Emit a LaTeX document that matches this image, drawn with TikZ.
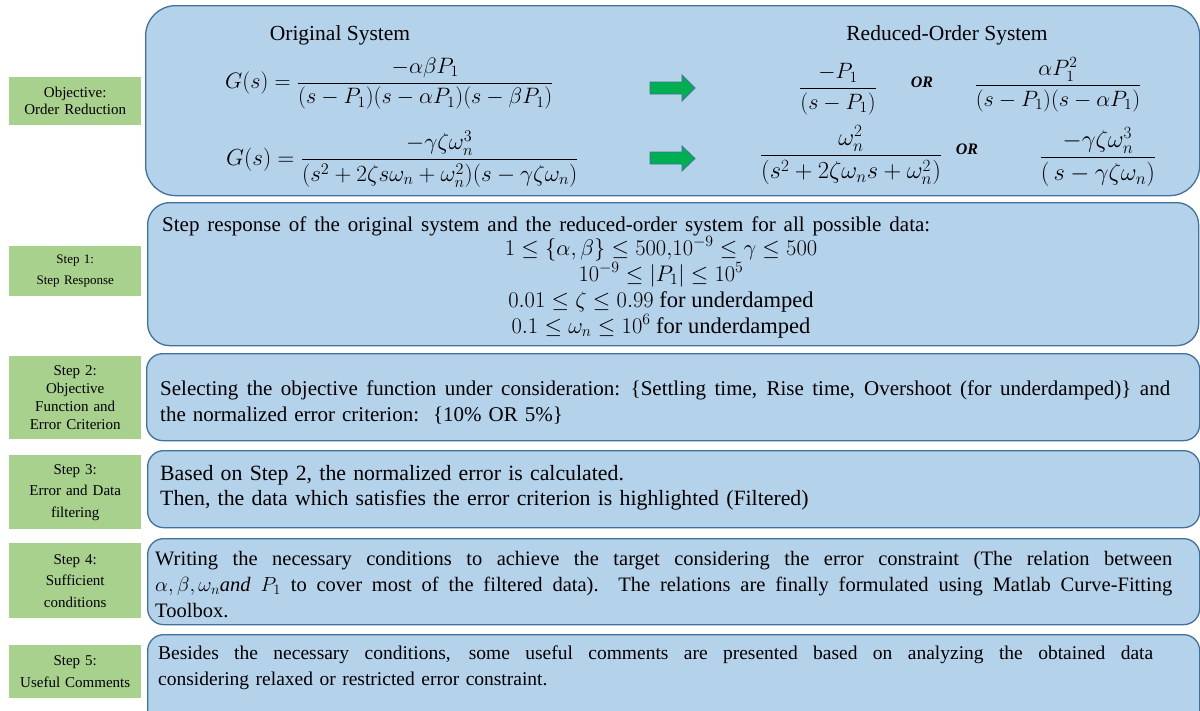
\RequirePackage{fix-cm}
\documentclass[tikz,border=0pt]{standalone}
\usepackage{fontspec}
\setmainfont{Liberation Serif}
\usepackage{amsmath}

\definecolor{panelfill}{RGB}{181,210,235}
\definecolor{panelline}{RGB}{65,113,156}
\definecolor{tagfill}{RGB}{169,209,142}
\definecolor{arrowfill}{RGB}{0,176,80}

\tikzset{
  panel/.style={draw=panelline, fill=panelfill, line width=1.3pt, anchor=north west, inner sep=0pt},
  tag/.style={fill=tagfill, anchor=north west, minimum width=132pt, text width=128pt,
              align=center, inner sep=0pt},
  body/.style={anchor=base west, inner sep=0pt, text width=1030pt},
  eqn/.style={anchor=base, inner sep=0pt, font=\fontsize{21.5}{26}\selectfont},
  orword/.style={anchor=base, inner sep=0pt, font=\fontsize{16}{18}\selectfont\bfseries\itshape},
  flow/.style={fill=arrowfill, draw=panelline, line width=0.8pt},
}
% a line whose word spaces are spread out to a fixed width
\newcommand{\spread}[2]{\leavevmode\hbox to #1pt{\spaceskip=0.25em plus 1fil\relax #2}}

\begin{document}
\begin{tikzpicture}[x=1pt,y=-1pt]
\useasboundingbox (0,0) rectangle (1200,710);
\clip (0,0) rectangle (1200,710);

% ---- rounded panels ----
\node[panel, rounded corners=30pt, minimum width=1054pt, minimum height=190pt] (b0) at (145,5) {};
\node[panel, rounded corners=22pt, minimum width=1051pt, minimum height=143pt] (b1) at (147,202) {};
\node[panel, rounded corners=16pt, minimum width=1053pt, minimum height=87pt] (b2) at (146,353) {};
\node[panel, rounded corners=16pt, minimum width=1052pt, minimum height=77pt] (b3) at (147,450) {};
\node[panel, rounded corners=16pt, minimum width=1052pt, minimum height=86pt] (b4) at (147,538) {};
\node[panel, rounded corners=16pt, minimum width=1052pt, minimum height=92pt] (b5) at (147,634) {};

% ---- green side labels ----
\node[tag, minimum height=48pt, font=\fontsize{15}{17}\selectfont] (t0) at (9,77) {Objective:\\Order Reduction};
\node[tag, minimum height=50pt, font=\fontsize{13}{21}\selectfont] (t1) at (9,246) {Step 1:\\Step Response};
\node[tag, minimum height=83pt, font=\fontsize{15}{18}\selectfont] (t2) at (9,356) {Step 2:\\Objective\\Function and\\Error Criterion};
\node[tag, minimum height=74pt, font=\fontsize{15}{21.5}\selectfont] (t3) at (9,455) {Step 3:\\Error and Data\\filtering};
\node[tag, minimum height=75pt, font=\fontsize{15}{21.5}\selectfont] (t4) at (9,543) {Step 4:\\Sufficient\\conditions};
\node[tag, minimum height=53pt, font=\fontsize{15}{21.5}\selectfont] (t5) at (9,645) {Step 5:\\Useful Comments};

% ---- order reduction panel ----
\node[eqn] (h1) at (340,40) {Original System};
\node[eqn] (h2) at (947,40) {Reduced-Order System};

\node[eqn, anchor=base west, font=\fontsize{22.3}{26}\selectfont] (g1) at (225,88.5) {$\displaystyle G(s)=\frac{-\alpha\beta P_1}{(s-P_1)(s-\alpha P_1)(s-\beta P_1)}$};
\node[eqn, anchor=base west, font=\fontsize{23.2}{26}\selectfont] (g2) at (226,165.5) {$\displaystyle G(s)=\frac{-\gamma\zeta\omega_n^3}{(s^2+2\zeta s\omega_n+\omega_n^2)(s-\gamma\zeta\omega_n)}$};

\draw[flow] (650,82) -- (682,82) -- (682,75) -- (695,88) -- (682,101) -- (682,94) -- (650,94) -- cycle;
\draw[flow] (650,152) -- (682,152) -- (682,146) -- (695,158.5) -- (682,171) -- (682,164) -- (650,164) -- cycle;

\node[eqn, font=\fontsize{22.2}{26}\selectfont] (r1) at (838,94) {$\displaystyle\frac{-P_1}{(s-P_1)}$};
\node[orword] (o1) at (922,87) {OR};
\node[eqn, font=\fontsize{22.2}{26}\selectfont] (r2) at (1058,91) {$\displaystyle\frac{\alpha P_1^2}{(s-P_1)(s-\alpha P_1)}$};

\node[eqn, font=\fontsize{24.5}{26}\selectfont] (r3) at (851,162) {$\displaystyle\frac{\omega_n^2}{(s^2+2\zeta\omega_n s+\omega_n^2)}$};
\node[orword] (o2) at (967,154) {OR};
\node[eqn, font=\fontsize{24.5}{26}\selectfont] (r4) at (1098,164) {$\displaystyle\frac{-\gamma\zeta\omega_n^3}{(\,s-\gamma\zeta\omega_n)}$};

% ---- step 1 ----
\node[body, font=\fontsize{21}{26}\selectfont] (s1) at (162,231)
  {\spread{768}{Step response of the original system and the reduced-order system for all possible data:}};
\node[eqn, align=center, font=\fontsize{22.5}{26}\selectfont] (s1m) at (661,333) {$1\le\{\alpha,\beta\}\le 500{,}10^{-9}\le\gamma\le 500$\\
  $10^{-9}\le|P_1|\le 10^{5}$\\
  $0.01\le\zeta\le 0.99$ for underdamped\\
  $0.1\le\omega_n\le 10^{6}$ for underdamped};

% ---- step 2 ----
\node[body, font=\fontsize{21}{26}\selectfont] (s2) at (160,395)
  {\spread{1010}{Selecting the objective function under consideration: \{Settling time, Rise time, Overshoot (for underdamped)\} and}\\
   the normalized error criterion:\ \ \{10\% OR 5\%\}};

% ---- step 3 ----
\node[body, font=\fontsize{21.8}{25.7}\selectfont] (s3) at (160,480)
  {Based on Step 2, the normalized error is calculated.\\
   Then, the data which satisfies the error criterion is highlighted (Filtered)};

% ---- step 4 ----
\node[body, font=\fontsize{20.5}{26}\selectfont] (s4) at (155,565)
  {\spread{1017}{Writing the necessary conditions to achieve the target considering the error constraint (The relation between}\\
   \spread{1017}{$\alpha,\beta,\omega_n\mathit{and}\ P_1$ to cover most of the filtered data).\ \ The relations are finally formulated using Matlab Curve-Fitting}\\
   Toolbox.};

% ---- step 5 ----
\node[body, font=\fontsize{19.5}{26}\selectfont] (s5) at (158,659)
  {\spread{995}{Besides the necessary conditions, some useful comments are presented based on analyzing the obtained data}\\
   considering relaxed or restricted error constraint.};
\end{tikzpicture}
\end{document}
